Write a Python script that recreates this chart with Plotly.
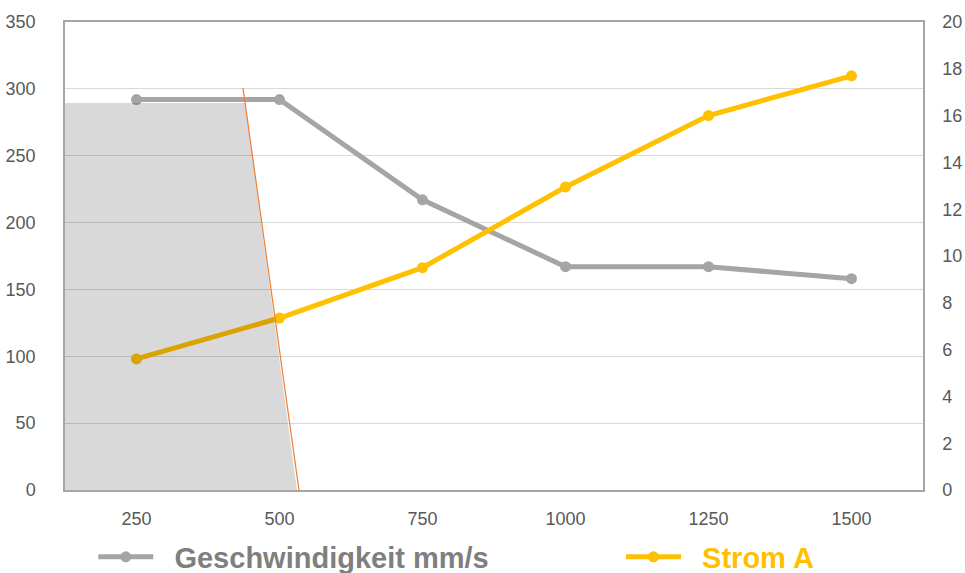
import plotly.graph_objects as go

categories = ["250", "500", "750", "1000", "1250", "1500"]
geschwindigkeit = [292, 292, 217, 167, 167, 158]
strom = [5.6, 7.35, 9.5, 12.95, 16.0, 17.7]
left_ticks = [0, 50, 100, 150, 200, 250, 300, 350]
right_ticks = [0, 2, 4, 6, 8, 10, 12, 14, 16, 18, 20]

GRAY = "#a5a5a5"
ORANGE = "#ffc000"
TICKCOL = "#595959"
FONT = "Liberation Sans"
PAD = "\u00a0\u00a0"

fig = go.Figure()
fig.add_trace(go.Scatter(
    x=categories, y=geschwindigkeit, mode="lines+markers",
    name=PAD + "<span style='color:#7f7f7f'>Geschwindigkeit mm/s</span>",
    line=dict(color=GRAY, width=5), marker=dict(size=11, color=GRAY),
    yaxis="y", legend="legend"))
fig.add_trace(go.Scatter(
    x=categories, y=strom, mode="lines+markers",
    name=PAD + "<span style='color:#ffc000'>Strom A</span>",
    line=dict(color=ORANGE, width=5), marker=dict(size=11, color=ORANGE),
    yaxis="y2", legend="legend2"))

# shaded region and boundary line
fig.add_shape(type="path", xref="x", yref="y",
              path="M -0.5,289.5 L 0.759,289.5 L 1.122,0 L -0.5,0 Z",
              fillcolor="rgba(0,0,0,0.15)", line=dict(width=0), layer="above")
fig.add_shape(type="line", xref="x", yref="y",
              x0=0.745, y0=300.5, x1=1.136, y1=0,
              line=dict(color="#ed7d31", width=1.2), layer="above")

legend_common = dict(orientation="h", y=-0.143, yanchor="middle",
                     font=dict(family=FONT, size=29, weight="bold"),
                     itemwidth=55, bgcolor="rgba(0,0,0,0)")

fig.update_layout(
    width=965, height=573,
    margin=dict(l=65, r=42, t=22, b=83, autoexpand=False),
    paper_bgcolor="white", plot_bgcolor="white",
    font=dict(family=FONT, size=18, color=TICKCOL),
    showlegend=True,
    legend=dict(x=0.033, xanchor="left", **legend_common),
    legend2=dict(x=0.648, xanchor="left", **legend_common),
    xaxis=dict(type="category", range=[-0.5, 5.5], showgrid=False, automargin=False,
               showline=True, linecolor="#a6a6a6", linewidth=1.5, mirror=True,
               ticks="", tickfont=dict(size=18, color=TICKCOL), ticklabelstandoff=12),
    yaxis=dict(range=[0, 350], tickvals=left_ticks, showgrid=True, gridcolor="#d9d9d9",
               gridwidth=1, showline=True, linecolor="#a6a6a6", linewidth=1.5,
               automargin=False,
               zeroline=False, ticks="", tickfont=dict(size=18, color=TICKCOL),
               ticklabelstandoff=24),
    yaxis2=dict(range=[0, 20], tickvals=right_ticks, overlaying="y", side="right",
                showgrid=False, showline=True, linecolor="#a6a6a6", linewidth=1.5,
                automargin=False,
                zeroline=False, ticks="", tickfont=dict(size=18, color=TICKCOL),
                ticklabelstandoff=14),
)

fig.write_html("out.html", config={"displayModeBar": False},
               post_script="document.body.style.margin='0';document.body.style.overflow='hidden';")
